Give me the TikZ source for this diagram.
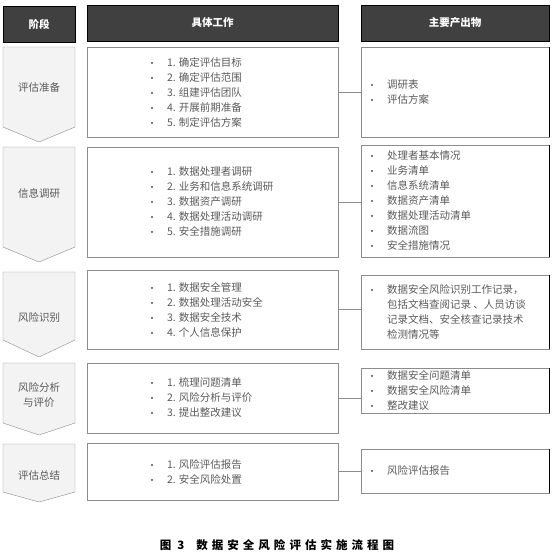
\documentclass[tikz,border=0pt]{standalone}
\usepackage{fontspec}
\setmainfont{Noto Sans CJK SC}
\newfontfamily\capfont[LetterSpace=35]{Noto Sans CJK SC}
\usetikzlibrary{positioning}

\definecolor{hdrgray}{HTML}{404040}
\definecolor{txtgray}{HTML}{5A5A5A}
\definecolor{stagefill}{HTML}{F3F3F3}
\definecolor{linegray}{HTML}{8C8C8C}
\newcommand{\itm}{\makebox[19pt][l]{\textcolor{black}{\footnotesize\textbullet}}}

\begin{document}
\begin{tikzpicture}[x=1pt, y=-1pt,
  hdr/.style={draw=black, fill=hdrgray, text=white, font=\bfseries\fontsize{10.5}{12}\selectfont, minimum height=36pt, inner sep=0pt},
  stage/.style={draw=linegray, fill=stagefill},
  stagetext/.style={text=txtgray, font=\fontsize{10.5}{15}\selectfont, align=center},
  workbox/.style={draw=linegray, minimum width=251pt, inner sep=0pt},
  outbox/.style={draw=linegray, minimum width=188pt, inner sep=0pt},
  items/.style={text=txtgray, font=\fontsize{10.5}{15}\selectfont, align=left, inner sep=0pt},
  link/.style={draw=linegray}
]
\useasboundingbox (0,0) rectangle (554,557);

% headers
\node [hdr, minimum width=72pt] (hstage) at (39,24) {阶段};
\node [hdr, minimum width=251pt] (hwork) at (212.5,23) {具体工作};
\node [hdr, minimum width=188pt] (hout) at (455,23) {主要产出物};

% stages
\foreach \t/\b/\p in {47/127/142, 147/247/262, 272/340/357, 363/423/435, 444/492/502}
  \draw [stage] (3,\t) -- (75,\t) -- (75,\b) -- (39,\p) -- (3,\b) -- cycle;
\node [stagetext] (s1) at (39,87) {评估准备};
\node [stagetext] (s2) at (39,193) {信息调研};
\node [stagetext] (s3) at (39,317) {风险识别};
\node [stagetext] (s4) at (39,395.5) {风险分析\\与评价};
\node [stagetext] (s5) at (39,475) {评估总结};

% work
\node [workbox, minimum height=90pt] (w1) at (212.5,92) {};
\node [workbox, minimum height=110pt] (w2) at (212.5,202) {};
\node [workbox, minimum height=79pt] (w3) at (212.5,309.5) {};
\node [workbox, minimum height=70pt] (w4) at (212.5,398) {};
\node [workbox, minimum height=57pt] (w5) at (212.5,471.5) {};

\node [items, right=61pt of w1.west] (wt1) {\itm 1. 确定评估目标\\ \itm 2. 确定评估范围\\ \itm 3. 组建评估团队\\ \itm 4. 开展前期准备\\ \itm 5. 制定评估方案};
\node [items, right=61pt of w2.west] (wt2) {\itm 1. 数据处理者调研\\ \itm 2. 业务和信息系统调研\\ \itm 3. 数据资产调研\\ \itm 4. 数据处理活动调研\\ \itm 5. 安全措施调研};
\node [items, right=61pt of w3.west] (wt3) {\itm 1. 数据安全管理\\ \itm 2. 数据处理活动安全\\ \itm 3. 数据安全技术\\ \itm 4. 个人信息保护};
\node [items, right=61pt of w4.west] (wt4) {\itm 1. 梳理问题清单\\ \itm 2. 风险分析与评价\\ \itm 3. 提出整改建议};
\node [items, right=61pt of w5.west] (wt5) {\itm 1. 风险评估报告\\ \itm 2. 安全风险处置};

% outputs
\node [outbox, minimum height=90pt] (o1) at (455,92) {};
\node [outbox, minimum height=112pt] (o2) at (455,201) {};
\node [outbox, minimum height=74pt] (o3) at (455,312) {};
\node [outbox, minimum height=45pt] (o4) at (455,390.5) {};
\node [outbox, minimum height=44pt] (o5) at (455,471) {};

\node [items, right=7pt of o1.west] (ot1) {\itm 调研表\\ \itm 评估方案};
\node [items, right=7pt of o2.west] (ot2) {\itm 处理者基本情况\\ \itm 业务清单\\ \itm 信息系统清单\\ \itm 数据资产清单\\ \itm 数据处理活动清单\\ \itm 数据流图\\ \itm 安全措施情况};
\node [items, right=7pt of o3.west] (ot3) {\itm 数据安全风险识别工作记录，\\ \hspace*{19pt}包括文档查阅记录 、人员访谈\\ \hspace*{19pt}记录文档、安全核查记录技术\\ \hspace*{19pt}检测情况等};
\node [items, right=7pt of o4.west] (ot4) {\itm 数据安全问题清单\\ \itm 数据安全风险清单\\ \itm 整改建议};
\node [items, right=7pt of o5.west] (ot5) {\itm 风险评估报告};

\foreach \n in {o1,o2,o3,o4,o5}
  \draw [line width=1.2pt] (\n.north east) -- (\n.south east);

% links
\foreach \i in {1,...,5}
  \draw [link] (w\i.east) -- (w\i.east -| o\i.west);

\node [font=\capfont\bfseries\fontsize{11.5}{13}\selectfont] (cap) at (277,545) {图\hspace{6pt}3\hspace{12pt}数据安全风险评估实施流程图};
\end{tikzpicture}
\end{document}
